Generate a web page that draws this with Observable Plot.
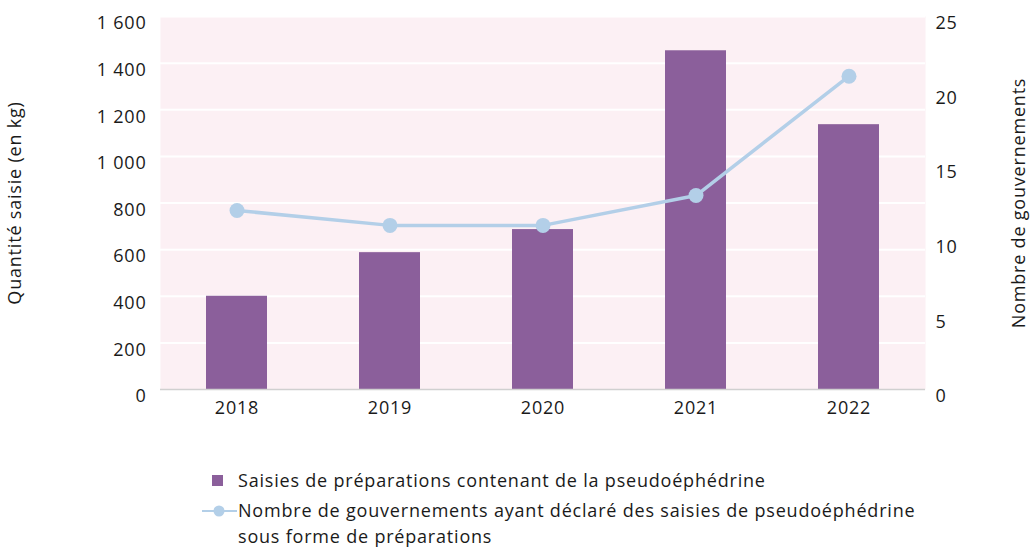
<!DOCTYPE html>
<html>
<head>
<meta charset="utf-8">
<script src="https://cdn.jsdelivr.net/npm/d3@7"></script>
<script src="https://cdn.jsdelivr.net/npm/@observablehq/plot@0.6"></script>
<style>
  body { margin: 0; background: #fff; font-family: "Open Sans", sans-serif; color: #1a1a1a; }
  #wrap { position: relative; width: 1033px; height: 549px; }
  #chart svg text { letter-spacing: 0.8px; }
  #legend { position: absolute; left: 0; top: 466px; width: 1033px; font-size: 18px; line-height: 26px; letter-spacing: 0.8px; }
  .item { position: absolute; left: 238px; white-space: nowrap; }
  .sw { position: absolute; }
</style>
</head>
<body>
<div id="wrap">
  <div id="chart"></div>
  <div id="legend"></div>
</div>
<script>
const years = ["2018", "2019", "2020", "2021", "2022"];
const seizuresKg = [400, 587, 686, 1453, 1136];
const governments = [12, 11, 11, 13, 21];
const leftTicks = [0, 200, 400, 600, 800, 1000, 1200, 1400, 1600];
const rightTicks = [0, 5, 10, 15, 20, 25];
const legendLabels = [
  "Saisies de préparations contenant de la pseudoéphédrine",
  "Nombre de gouvernements ayant déclaré des saisies de pseudoéphédrine<br>sous forme de préparations"
];

const purple = "#8b5f9b";
const blue = "#b3cfe8";
const pink = "#fcf0f4";
const k = 1600 / 25;

const data = years.map((year, i) => ({year, kg: seizuresKg[i], gov: governments[i]}));
const fmt = d => d3.format(",")(d).replace(/,/g, " ");

const chart = Plot.plot({
  width: 1033,
  height: 440,
  marginLeft: 160,
  marginRight: 108,
  marginTop: 16,
  marginBottom: 51,
  style: {fontFamily: "Open Sans", fontSize: "18px", color: "#1a1a1a", background: "white"},
  x: {domain: years, paddingInner: 0.6, paddingOuter: 0.3},
  y: {domain: [0, 1600]},
  marks: [
    Plot.frame({fill: pink, stroke: null}),
    Plot.ruleY(leftTicks.slice(1), {stroke: "white", strokeWidth: 2}),
    Plot.barY(data, {x: "year", y: "kg", fill: purple}),
    Plot.ruleY([0], {stroke: "#d0d0d0", strokeWidth: 1.5}),
    Plot.line(data, {x: "year", y: d => d.gov * k, stroke: blue, strokeWidth: 3.5}),
    Plot.dot(data, {x: "year", y: d => d.gov * k, r: 7.5, fill: blue}),
    Plot.axisY({ticks: leftTicks, tickSize: 0, tickPadding: 14, dy: 7, tickFormat: fmt,
      label: "Quantité saisie (en kg)", labelAnchor: "center", labelArrow: "none", labelOffset: 152}),
    Plot.axisY({anchor: "right", ticks: rightTicks.map(v => v * k), tickSize: 0, tickPadding: 10, dy: 7,
      tickFormat: d => d / k, label: "Nombre de gouvernements", labelAnchor: "center", labelArrow: "none", labelOffset: 99}),
    Plot.axisX({tickSize: 0, tickPadding: 12, label: null})
  ]
});
document.getElementById("chart").appendChild(chart);

const legend = document.getElementById("legend");
legend.innerHTML = `
  <svg class="sw" style="left:212px;top:9px" width="12" height="12"><rect width="11" height="11" fill="${purple}"/></svg>
  <div class="item" style="top:1px">${legendLabels[0]}</div>
  <svg class="sw" style="left:202px;top:37px" width="36" height="16"><line x1="0" x2="35" y1="8" y2="8" stroke="${blue}" stroke-width="2"/><circle cx="17" cy="8" r="5.5" fill="${blue}"/></svg>
  <div class="item" style="top:31px">${legendLabels[1]}</div>
`;
</script>
</body>
</html>
